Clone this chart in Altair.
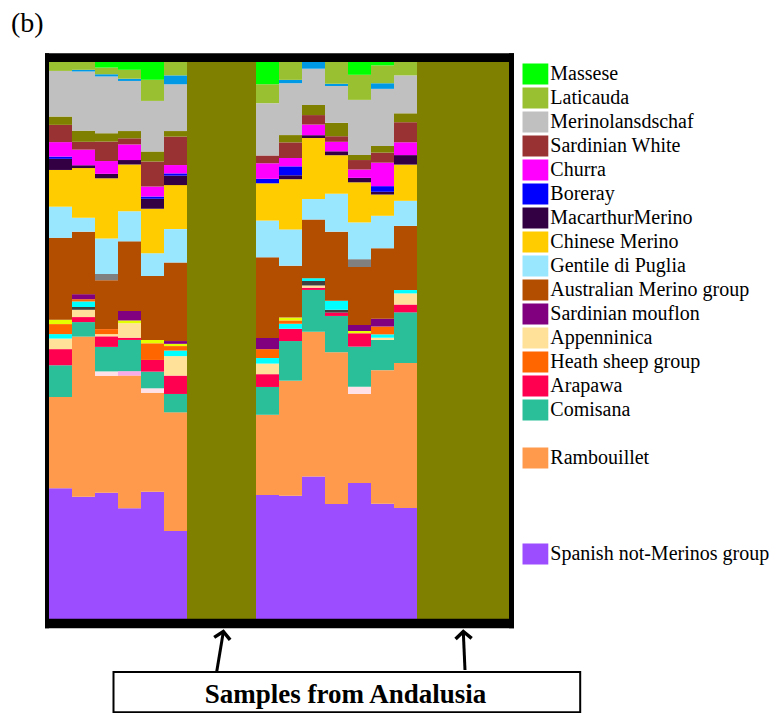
import altair as alt
import pandas as pd

# ---------------- data ----------------
admixed_samples = ["S1", "S2", "S3", "S4", "S5", "S6",
                   "S7", "S8", "S9", "S10", "S11", "S12", "S13"]
andalusia_group1 = ["A1", "A2", "A3"]
andalusia_group2 = ["A4", "A5", "A6", "A7"]
sample_order = (admixed_samples[:6] + andalusia_group1 +
                admixed_samples[6:] + andalusia_group2)
andalusia_q = [100, 100, 100, 100, 100, 100, 100]

# ancestry proportions (%) of the 13 admixed samples
spanish_not_merinos = [23.5, 21.9, 22.7, 19.9, 22.9, 15.8, 22.3, 22.1, 25.5, 20.6, 24.4, 20.6, 19.9]
rambouillet = [16.4, 28.7, 21.0, 23.8, 17.8, 21.3, 14.4, 20.6, 25.9, 27.2, 16.0, 23.9, 26.0]
light_pink = [0, 0, 0.8, 0, 0.8, 0, 0, 0, 0, 0, 1.3, 0, 0]
pink = [0, 0, 0, 0.8, 0, 0, 0, 0, 0, 0, 0, 0, 0]
comisana = [5.7, 2.6, 4.4, 5.6, 3.0, 3.3, 5.0, 7.1, 7.5, 6.5, 7.2, 5.4, 9.1]
arapawa = [2.9, 0.9, 1.9, 0.4, 2.1, 3.3, 2.3, 2.2, 0.4, 0.6, 2.4, 0, 1.4]
appenninica = [1.9, 1.3, 0.4, 2.6, 0, 3.5, 1.9, 0, 0.4, 0, 0, 0.4, 2.0]
dark_grey = [0, 0.5, 0, 0, 0, 0, 0, 0, 0.8, 0.5, 0, 0, 0]
cyan = [0.8, 1.0, 0, 0, 0, 1.0, 1.0, 0.9, 0.5, 1.6, 0, 0.6, 0.6]
heath = [1.8, 0.4, 0.9, 0, 3.0, 0.8, 1.6, 0.6, 0, 0, 0, 1.4, 0]
lime = [0.8, 0, 0, 0.5, 0.6, 0.4, 0, 0.5, 0, 0, 0.4, 0, 0]
sardinian_mouflon = [0, 0.9, 0, 1.7, 0, 0.5, 2.0, 0, 0, 0, 1.1, 1.4, 0]
australian_merino = [14.7, 11.2, 8.8, 12.5, 11.5, 14.1, 14.5, 9.3, 10.5, 12.4, 10.4, 12.6, 11.5]
grey = [0, 0, 1.1, 0, 0, 0, 0, 0, 0, 0, 1.4, 0, 0]
gentile_di_puglia = [5.6, 2.5, 6.4, 5.4, 4.1, 6.0, 6.6, 6.5, 3.7, 6.8, 6.6, 5.8, 4.5]
chinese_merino = [6.6, 8.9, 10.8, 8.4, 8.0, 7.9, 6.7, 9.0, 10.9, 6.9, 7.2, 3.8, 6.5]
macarthur_merino = [2.0, 0.5, 0.8, 0.8, 1.8, 1.7, 0, 0.7, 0.5, 0.7, 0.8, 0.5, 1.7]
boreray = [0.4, 0, 0, 0, 0.4, 0.4, 0.8, 1.6, 0, 0, 0, 1.0, 0]
churra = [2.6, 2.8, 2.3, 2.8, 1.8, 1.5, 2.8, 1.5, 1.9, 1.7, 1.5, 4.2, 2.3]
sardinian_white = [3.1, 1.4, 3.5, 1.1, 4.5, 5.1, 1.4, 2.8, 1.7, 1.0, 1.7, 1.8, 3.6]
andalusian = [1.5, 2.0, 1.5, 1.3, 1.8, 1.0, 0, 1.3, 1.8, 2.4, 0.9, 1.2, 1.6]
merinolandschaf = [8.2, 10.6, 10.2, 9.0, 9.1, 8.4, 9.4, 9.3, 6.5, 6.6, 9.9, 10.2, 6.8]
sky_blue = [0, 0.3, 0.4, 0.4, 0, 1.6, 0, 0.6, 1.2, 0.4, 0, 1.0, 0]
laticauda = [1.6, 1.4, 1.2, 1.6, 3.8, 2.4, 3.4, 3.2, 0, 3.9, 4.5, 3.2, 2.4]
massese = [0, 0, 1.0, 1.4, 3.2, 0, 4.0, 0, 0, 0, 2.3, 0.6, 0]

# stacking order, bottom to top
stack = [
    ("Spanish not-Merinos group", spanish_not_merinos, "#9B4DFF"),
    ("Rambouillet", rambouillet, "#FF9A4D"),
    ("light pink", light_pink, "#FFE0E8"),
    ("pink", pink, "#F9AAE8"),
    ("Comisana", comisana, "#2BBF99"),
    ("Arapawa", arapawa, "#FF0050"),
    ("Appenninica", appenninica, "#FFE199"),
    ("dark grey", dark_grey, "#404040"),
    ("cyan", cyan, "#00FFFF"),
    ("Heath sheep group", heath, "#FF6600"),
    ("lime", lime, "#E6FF00"),
    ("Sardinian mouflon", sardinian_mouflon, "#800080"),
    ("Australian Merino group", australian_merino, "#B34D00"),
    ("grey", grey, "#808080"),
    ("Gentile di Puglia", gentile_di_puglia, "#99E6FF"),
    ("Chinese Merino", chinese_merino, "#FFCC00"),
    ("MacarthurMerino", macarthur_merino, "#330044"),
    ("Boreray", boreray, "#0000FF"),
    ("Churra", churra, "#FF00FF"),
    ("Sardinian White", sardinian_white, "#993333"),
    ("Andalusian", andalusian, "#808000"),
    ("Merinolansdschaf", merinolandschaf, "#C0C0C0"),
    ("sky blue", sky_blue, "#0099E6"),
    ("Laticauda", laticauda, "#99C031"),
    ("Massese", massese, "#00FF00"),
]
colour_of = {name: col for name, _, col in stack}
rank_of = {name: k for k, (name, _, _) in enumerate(stack)}

legend_slots = ["Massese", "Laticauda", "Merinolansdschaf", "Sardinian White",
                "Churra", "Boreray", "MacarthurMerino", "Chinese Merino",
                "Gentile di Puglia", "Australian Merino group", "Sardinian mouflon",
                "Appenninica", "Heath sheep group", "Arapawa", "Comisana",
                " ", "Rambouillet", "  ", "   ", "    ", "Spanish not-Merinos group"]

rows = []
for i, s in enumerate(admixed_samples):
    for name, vals, _ in stack:
        if vals[i] > 0:
            rows.append({"sample": s, "cluster": name, "q": vals[i], "rank": rank_of[name]})
for s, v in zip(andalusia_group1 + andalusia_group2, andalusia_q):
    rows.append({"sample": s, "cluster": "Andalusian", "q": v, "rank": rank_of["Andalusian"]})
df = pd.DataFrame(rows)

extra = [n for n, _, _ in stack if n not in legend_slots]
domain = legend_slots + extra
rng = [colour_of.get(n, "transparent") for n in domain]
scale = alt.Scale(domain=domain, range=rng)

bars = alt.Chart(df).mark_bar(strokeWidth=0).encode(
    x=alt.X("sample:N", sort=sample_order, axis=None,
            scale=alt.Scale(paddingInner=0, paddingOuter=0)),
    y=alt.Y("q:Q", stack="normalize", axis=None),
    color=alt.Color("cluster:N", scale=scale, title=None,
                    legend=alt.Legend(
                        values=legend_slots, orient="none", legendX=473.3, legendY=0.3,
                        direction="vertical", padding=0, rowPadding=0, clipHeight=23.36,
                        symbolType="M-1,-0.8077L1,-0.8077L1,0.8077L-1,0.8077Z",
                        symbolSize=676, symbolStrokeWidth=0, symbolOpacity=1,
                        labelFont="Liberation Serif", labelFontSize=20,
                        labelColor="black", labelOffset=2, labelLimit=400)),
    order=alt.Order("rank:Q", sort="ascending"),
)

one = pd.DataFrame({"k": [0]})


def rule(x, x2, y, y2, w):
    return alt.Chart(one).mark_rule(color="black", strokeWidth=w, strokeCap="butt").encode(
        x=alt.value(x), x2=alt.value(x2), y=alt.value(y), y2=alt.value(y2))


frame = [
    rule(-4, 465, -4.35, -4.35, 8.7),
    rule(-4, 465, 561.5, 561.5, 9.5),
    rule(-2, -2, -8.7, 566.3, 4),
    rule(462.5, 462.5, -8.7, 566.3, 5),
]

arrows = [
    rule(167.7, 174.3, 609.7, 570, 3),
    rule(416, 414.3, 608, 570, 3),
    alt.Chart(one).mark_point(shape="M-1,0.9L0,0L1,0.9", size=260, filled=False,
                              color="black", strokeWidth=3.5, angle=9, opacity=1).encode(
        x=alt.value(174.3), y=alt.value(569.5)),
    alt.Chart(one).mark_point(shape="M-1,0.9L0,0L1,0.9", size=260, filled=False,
                              color="black", strokeWidth=3.5, angle=357.6, opacity=1).encode(
        x=alt.value(414.3), y=alt.value(569.5)),
]

box = alt.Chart(one).mark_rect(fill="white", stroke="black", strokeWidth=2).encode(
    x=alt.value(64.5), x2=alt.value(531.2), y=alt.value(609.9), y2=alt.value(650.2))

box_label = alt.Chart(pd.DataFrame({"t": ["Samples from Andalusia"]})).mark_text(
    font="Liberation Serif", fontSize=27, fontWeight="bold", align="center",
    baseline="alphabetic", color="black").encode(
    x=alt.value(296.5), y=alt.value(641.3), text="t:N")

panel_label = alt.Chart(pd.DataFrame({"t": ["(b)"]})).mark_text(
    font="Liberation Serif", fontSize=28, align="left", baseline="alphabetic",
    color="black").encode(x=alt.value(-38), y=alt.value(-30), text="t:N")

chart = alt.layer(bars, *frame, *arrows, box, box_label, panel_label).properties(
    width=460, height=557,
    autosize=alt.AutoSizeParams(type="none"),
    padding={"left": 41, "top": 54, "right": 262, "bottom": 94},
    background="white",
).configure_view(strokeWidth=0)

chart.save("out.html", embed_options={"renderer": "svg", "actions": False})
